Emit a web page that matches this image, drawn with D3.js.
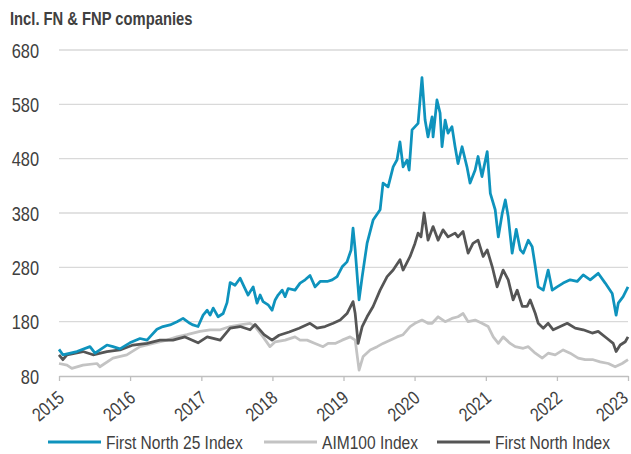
<!DOCTYPE html>
<html>
<head>
<meta charset="utf-8">
<script src="https://cdn.jsdelivr.net/npm/d3@7"></script>
<style>
  body { margin: 0; background: #fff; }
  svg { display: block; }
  text { font-family: "Liberation Sans", Arial, sans-serif; fill: #404040; }
</style>
</head>
<body>
<svg id="chart" width="631" height="454"></svg>
<script>
// index levels, one date list per series
var fn25Dates = ["2015-01-01","2015-01-21","2015-04-03","2015-06-09","2015-07-05","2015-09-04","2015-10-05","2015-11-10","2015-12-31",
  "2016-02-21","2016-03-28","2016-04-12","2016-05-18","2016-06-18","2016-07-24","2016-08-29","2016-09-29","2016-11-03","2016-11-19","2016-12-15",
  "2017-01-10","2017-01-31","2017-02-15","2017-03-03","2017-03-28","2017-04-23","2017-05-13","2017-05-29","2017-06-23","2017-07-19","2017-08-09","2017-08-29","2017-09-24","2017-10-14","2017-10-30","2017-11-14","2017-12-10","2017-12-30",
  "2018-01-15","2018-01-30","2018-02-20","2018-03-07","2018-03-23","2018-04-27","2018-05-23","2018-06-18","2018-07-13","2018-08-08","2018-09-03","2018-10-09","2018-11-04","2018-11-29","2018-12-25",
  "2019-01-19","2019-02-09","2019-02-19","2019-03-02","2019-03-22","2019-04-07","2019-05-02","2019-06-02","2019-07-08","2019-07-23","2019-08-18","2019-09-13","2019-10-03","2019-10-18","2019-11-03","2019-11-23","2019-12-04","2019-12-19",
  "2020-01-19","2020-02-08","2020-02-24","2020-03-10","2020-03-31","2020-04-05","2020-04-25","2020-05-11","2020-05-21","2020-06-06","2020-06-21","2020-07-11","2020-07-27","2020-08-11","2020-09-01","2020-09-26","2020-10-12","2020-11-07","2020-11-22","2020-12-12",
  "2021-01-08","2021-01-24","2021-02-18","2021-03-06","2021-03-26","2021-04-11","2021-04-26","2021-05-16","2021-06-06","2021-06-27","2021-07-12","2021-08-07","2021-08-27","2021-09-12","2021-09-27","2021-10-23","2021-11-17","2021-12-08",
  "2022-01-02","2022-02-02","2022-03-10","2022-04-15","2022-05-16","2022-06-21","2022-08-01","2022-09-06","2022-10-12","2022-11-01","2022-11-12","2022-12-07","2023-01-01"];
var fn25Values = [129,119,125,134,122,137,134,130,141,
  149,146,152,166,171,174,180,186,177,174,171,
  192,201,192,205,189,195,215,252,247,260,244,229,244,214,229,217,211,201,
  220,229,238,226,241,238,251,257,265,244,254,254,257,263,281,
  290,312,352,312,220,263,324,367,386,435,428,465,478,511,465,477,459,533,
  545,629,551,520,557,520,588,564,502,551,527,539,502,471,502,465,435,459,484,447,
  493,416,386,336,379,404,373,306,350,312,306,330,318,281,244,238,275,238,
  244,251,257,254,266,257,269,251,232,192,214,226,244];

var aimDates = ["2015-01-01","2015-02-11","2015-03-08","2015-05-04","2015-07-15","2015-07-30","2015-10-05","2015-12-15",
  "2016-02-21","2016-04-28","2016-07-08","2016-08-29","2016-10-19","2016-12-25",
  "2017-02-15","2017-04-08","2017-05-29","2017-07-19","2017-09-08","2017-10-04","2017-11-14","2017-12-19",
  "2018-01-15","2018-03-07","2018-04-27","2018-05-23","2018-06-28","2018-08-08","2018-09-18","2018-10-14","2018-11-19","2018-12-25",
  "2019-02-04","2019-03-02","2019-03-22","2019-04-12","2019-05-18","2019-06-23","2019-07-23","2019-08-28","2019-10-03","2019-11-03","2019-12-09",
  "2020-01-03","2020-02-08","2020-03-10","2020-03-31","2020-05-01","2020-06-06","2020-07-11","2020-08-11","2020-09-06","2020-10-02","2020-11-07","2020-12-12",
  "2021-01-13","2021-02-08","2021-03-06","2021-03-31","2021-05-06","2021-06-01","2021-07-12","2021-08-07","2021-09-12","2021-10-18","2021-11-17","2021-12-23",
  "2022-02-02","2022-03-10","2022-04-20","2022-05-26","2022-07-06","2022-08-11","2022-09-22","2022-10-27","2022-12-02","2023-01-01"];
var aimValues = [103,100,94,100,103,97,113,119,
  134,140,146,152,156,162,
  165,165,171,174,177,171,152,134,
  143,146,152,146,146,140,134,140,140,146,
  152,146,91,116,128,134,140,146,152,156,171,
  177,183,177,177,189,180,186,189,195,180,183,177,
  171,152,140,152,140,134,131,134,122,113,122,119,
  128,122,113,110,110,106,103,97,103,110];

var fnDates = ["2015-01-01","2015-01-21","2015-02-11","2015-05-04","2015-06-25","2015-09-04","2015-11-10",
  "2016-01-16","2016-03-28","2016-06-02","2016-08-08","2016-10-09","2016-12-15",
  "2017-01-31","2017-04-08","2017-05-29","2017-07-19","2017-09-08","2017-10-04","2017-11-19","2017-12-30",
  "2018-02-04","2018-03-28","2018-05-18","2018-07-13","2018-08-18","2018-09-28","2018-11-09","2018-12-15",
  "2019-01-19","2019-02-19","2019-03-02","2019-03-17","2019-04-07","2019-05-02","2019-06-02","2019-07-08","2019-08-13","2019-09-13","2019-10-18","2019-11-03","2019-12-09",
  "2020-01-03","2020-01-19","2020-02-03","2020-02-19","2020-03-10","2020-04-05","2020-05-01","2020-05-26","2020-06-21","2020-07-27","2020-08-11","2020-09-06","2020-10-02","2020-10-27","2020-11-22","2020-12-18",
  "2021-01-08","2021-02-03","2021-02-28","2021-03-31","2021-04-26","2021-05-21","2021-06-11","2021-07-07","2021-08-01","2021-08-17","2021-09-12","2021-09-27","2021-10-23","2021-11-17","2021-12-13",
  "2022-01-18","2022-02-23","2022-04-05","2022-05-16","2022-07-01","2022-08-01","2022-09-16","2022-10-17","2022-11-01","2022-11-22","2022-12-18","2023-01-01"];
var fnValues = [119,110,119,125,119,125,128,
  137,140,146,146,152,141,
  152,146,168,171,165,175,156,146,
  155,161,168,177,168,171,177,183,
  195,217,195,140,171,189,208,238,263,275,294,275,300,
  324,343,336,380,330,355,330,349,336,343,336,346,306,324,330,300,
  312,281,244,275,257,220,238,208,208,220,195,177,168,177,165,
  171,177,168,165,159,162,149,140,125,137,143,152];

var seriesNames = ["First North 25 Index", "AIM100 Index", "First North Index"];
var seriesColors = ["#0e93bd", "#c3c3c3", "#555555"];
var yTicks = [80, 180, 280, 380, 480, 580, 680];
var xTicks = ["2015","2016","2017","2018","2019","2020","2021","2022","2023"];
var title = "Incl. FN & FNP companies";

var parseDate = d3.timeParse("%Y-%m-%d");
var parseYear = d3.timeParse("%Y");

function makeSeries(dates, values) {
    var out = [];
    for (var i = 0; i < dates.length; i++) {
        out.push({ date: parseDate(dates[i]), value: values[i] });
    }
    return out;
}

// squeeze text horizontally to look like a narrow face (no narrow font installed)
// text must sit at x=0 of its own transform
function narrow(sel) {
    sel.each(function() {
        var t = d3.select(this).attr("transform") || "";
        d3.select(this).attr("transform", t + " scale(0.82,1)");
    });
}

var series = [
    makeSeries(fn25Dates, fn25Values),
    makeSeries(aimDates, aimValues),
    makeSeries(fnDates, fnValues)
];

var svg = d3.select("#chart");

var x = d3.scaleTime()
    .domain([parseYear("2015"), parseYear("2023")])
    .range([59, 628]);
var y = d3.scaleLinear()
    .domain([80, 680])
    .range([376, 50]);

svg.append("text")
    .attr("transform", "translate(10,25)")
    .style("font-size", "18px")
    .style("font-weight", "bold")
    .text(title)
    .call(narrow);

// gridlines
svg.append("g")
    .selectAll("line")
    .data(yTicks.slice(1))
    .enter().append("line")
    .attr("x1", 59).attr("x2", 628)
    .attr("y1", function(d) { return y(d); })
    .attr("y2", function(d) { return y(d); })
    .attr("stroke", "#d9d9d9")
    .attr("stroke-width", 1.3);

// y axis labels only
var yAxis = d3.axisLeft(y).tickValues(yTicks).tickSize(0).tickPadding(0);
var gy = svg.append("g").attr("transform", "translate(39,0)").call(yAxis);
gy.select(".domain").remove();
gy.selectAll("text")
    .style("font-size", "20px")
    .attr("fill", "#404040")
    .attr("x", 0)
    .attr("dy", "0.36em")
    .call(narrow);

// x axis
var xAxis = d3.axisBottom(x)
    .tickValues(xTicks.map(parseYear))
    .tickFormat(d3.timeFormat("%Y"))
    .tickSize(5)
    .tickSizeOuter(0);
var gx = svg.append("g").attr("transform", "translate(0,376)").call(xAxis);
gx.select(".domain").attr("stroke", "#bfbfbf").attr("stroke-width", 1.3);
gx.selectAll(".tick line").attr("stroke", "#bfbfbf").attr("stroke-width", 1.3);
gx.selectAll("text")
    .style("font-size", "19px")
    .attr("fill", "#404040")
    .style("text-anchor", "end")
    .attr("y", 0)
    .attr("dy", "0")
    .attr("transform", function(d, i) {
        var shift = i === xTicks.length - 1 ? 1 : 6;
        return "translate(" + shift + ",24) rotate(-40)";
    })
    .call(narrow);

var line = d3.line()
    .x(function(d) { return x(d.date); })
    .y(function(d) { return y(d.value); });

// draw AIM first, then First North, then FN25 on top
[1, 2, 0].forEach(function(k) {
    svg.append("path")
        .datum(series[k])
        .attr("fill", "none")
        .attr("stroke", seriesColors[k])
        .attr("stroke-width", 2.75)
        .attr("stroke-linejoin", "round")
        .attr("d", line);
});

// legend
var legendX = [48, 264, 437];
var leg = svg.append("g").selectAll("g")
    .data(seriesNames)
    .enter().append("g")
    .attr("transform", function(d, i) { return "translate(" + legendX[i] + ",442)"; });
leg.append("line")
    .attr("x1", 0).attr("x2", 53)
    .attr("stroke", function(d, i) { return seriesColors[i]; })
    .attr("stroke-width", 3);
leg.append("text")
    .attr("transform", "translate(58,0)")
    .attr("dy", "0.36em")
    .style("font-size", "19px")
    .text(function(d) { return d; })
    .call(narrow);
</script>
</body>
</html>
